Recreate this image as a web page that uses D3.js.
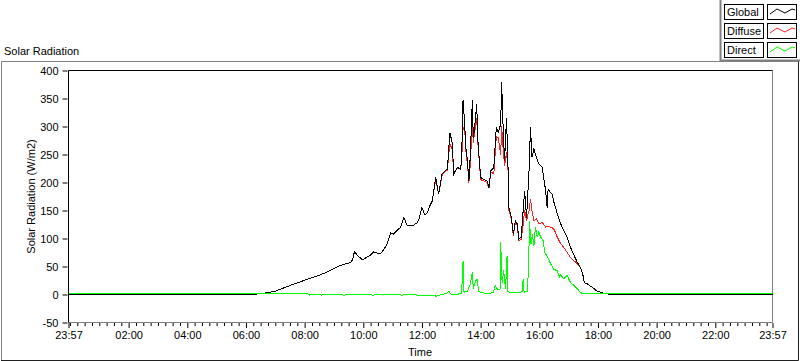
<!DOCTYPE html>
<html>
<head>
<meta charset="utf-8">
<script src="https://cdn.jsdelivr.net/npm/d3@7"></script>
<style>
  body { margin: 0; background: #fff; }
  svg { display: block; font-family: "Liberation Sans", Arial, sans-serif; font-size: 11px; }
</style>
</head>
<body>
<div id="chart"></div>
<script>
// minutes after midnight, shared by Global and Diffuse
const times = [-3, 360, 372, 384, 396, 408, 420, 432, 444, 456, 470, 484, 498, 512, 520, 530, 542, 553, 565, 574,
  578, 582, 588, 598, 606, 614, 621, 628, 635, 642, 649, 656, 662, 669, 676, 683, 690, 696, 703, 710,
  714, 720, 726, 731, 736, 741, 748, 754, 761, 768, 772, 777, 782, 785, 792, 799, 801, 804, 807, 810,
  813, 816, 819, 823, 825, 827, 832, 834, 840, 846, 853, 857, 861, 867, 872, 876, 881, 883, 886, 889,
  893, 896, 898, 903, 907, 911, 915, 918, 923, 927, 930, 934, 936, 939, 942, 945, 949, 954, 959, 966,
  973, 976, 978, 986, 991, 997, 1003, 1010, 1017, 1024, 1031, 1038, 1044, 1049, 1052, 1058, 1068, 1078, 1092, 1106, 1437]
const globalV = [0, 0, 0, 1, 2, 4, 6, 10, 14, 18, 22, 27, 31, 35, 38, 42, 47, 52, 55, 57,
  62, 77, 70, 62, 66, 70, 76, 74, 73, 80, 91, 110, 108, 114, 120, 137, 123, 123, 124, 128,
  135, 155, 142, 146, 158, 167, 209, 179, 215, 221, 224, 289, 271, 215, 227, 224, 239, 347, 310, 260,
  239, 203, 251, 347, 280, 292, 340, 280, 209, 206, 203, 191, 221, 227, 298, 289, 304, 379, 298, 239,
  316, 227, 155, 137, 108, 132, 126, 99, 102, 150, 185, 137, 173, 221, 299, 245, 260, 245, 233, 227,
  185, 155, 188, 179, 161, 144, 128, 114, 102, 84, 70, 57, 48, 36, 21, 19, 13, 6, 2, 0, 0]
const diffuseV = [0, 0, 0, 1, 2, 4, 6, 10, 14, 18, 22, 27, 31, 35, 38, 42, 47, 52, 55, 57,
  62, 77, 70, 62, 66, 70, 76, 74, 73, 80, 91, 110, 108, 114, 120, 137, 123, 123, 124, 128,
  135, 155, 142, 146, 158, 167, 205, 179, 212, 221, 222, 270, 258, 215, 225, 224, 236, 295, 300, 255,
  233, 200, 235, 310, 270, 285, 315, 275, 205, 203, 200, 190, 219, 215, 282, 280, 250, 300, 260, 230,
  255, 222, 150, 134, 105, 129, 123, 96, 98, 125, 150, 132, 140, 150, 170, 150, 132, 135, 126, 129,
  120, 122, 121, 120, 115, 102, 92, 84, 75, 66, 60, 55, 48, 36, 21, 19, 13, 6, 2, 0, 0]

// Direct has its own sample times
const directT = [-3, 485, 490, 500, 515, 530, 560, 590, 620, 650, 680, 700, 720, 735, 750, 760, 770, 775, 778, 790,
  801, 804, 806, 810, 813, 819, 823, 825, 830, 833, 836, 846, 855, 860, 866, 870, 874, 877, 880, 881,
  884, 887, 891, 894, 896, 901, 908, 915, 922, 925, 927, 929, 935, 938, 940, 943, 946, 949, 952, 956,
  959, 962, 968, 971, 973, 976, 983, 990, 997, 1002, 1003, 1010, 1017, 1024, 1031, 1038, 1044, 1048, 1437]
const directV = [1.8, 1.8, -1, 0, -1, 0, -1, 0, -1, 0, -1, 0, -2, -1, -3, 0, 2, 6, 1, 0,
  2, 60, 4, 6, 6, 19, 40, 10, 25, 27, 5, 3, 1, 2, 4, 16, 10, 8, 10, 93,
  20, 43, 10, 69, 5, 3, 4, 3, 4, 5, 27, 4, 6, 42, 132, 90, 108, 86, 120, 102,
  112, 104, 96, 75, 72, 69, 55, 45, 42, 30, 36, 28, 34, 21, 16, 10, 4, 1.8, 1.8]

const yTicks = [-50, 0, 50, 100, 150, 200, 250, 300, 350, 400]
const xMajor = [-3, 120, 240, 360, 480, 600, 720, 840, 960, 1080, 1200, 1320, 1437]
const seriesNames = ["Global", "Diffuse", "Direct"]
const seriesColors = ["#000000", "#ff2020", "#00ff00"]

const W = 800, H = 361
const x = d3.scaleLinear().domain([-3, 1437]).range([68.5, 772.5])
const y = d3.scaleLinear().domain([-50, 400]).range([322.5, 70.5])

const svg = d3.select("#chart").append("svg")
    .attr("width", W).attr("height", H)

svg.append("rect").attr("width", W).attr("height", H).attr("fill", "#fff")

// outer panel frame
svg.append("path").attr("d", "M1.5,360 V61.5 H799").attr("fill", "none").attr("stroke", "#808080")
svg.append("path").attr("d", "M1,360.5 H798.5 V61").attr("fill", "none").attr("stroke", "#202020")

svg.append("text").attr("x", 4).attr("y", 55).text("Solar Radiation")

// legend
const lg = svg.append("g")
lg.append("path").attr("d", "M720.5,0 V60.5 H800").attr("fill", "none").attr("stroke", "#808080").attr("stroke-width", 2)
const swatch = d3.line()
seriesNames.forEach((name, i) => {
  const top = 4 + i * 19
  lg.append("rect").attr("x", 724.5).attr("y", top + 0.5).attr("width", 39).attr("height", 15)
    .attr("fill", "#fff").attr("stroke", "#000")
  lg.append("text").attr("x", 727).attr("y", top + 12).text(name)
  lg.append("rect").attr("x", 767.5).attr("y", top + 0.5).attr("width", 29).attr("height", 15)
    .attr("fill", "#fff").attr("stroke", "#000")
  lg.append("path")
    .attr("d", swatch([[770, top + 10], [777, top + 5], [785, top + 9], [792, top + 5], [795, top + 6]]))
    .attr("fill", "none").attr("stroke", seriesColors[i])
})

// plot frame
svg.append("path").attr("d", `M${x(1437)},${y(400)} V${y(-50)} H${x(-3)}`)
  .attr("fill", "none").attr("stroke", "#808080")
svg.append("path").attr("d", `M${x(-3)},${y(-50)} V${y(400)} H${x(1437)}`)
  .attr("fill", "none").attr("stroke", "#000")

// y axis
const yAxis = svg.append("g").attr("transform", `translate(${x(-3) - 1},0)`)
  .call(d3.axisLeft(y).tickValues(yTicks).tickSize(5).tickPadding(4).tickFormat(d => String(d)))
yAxis.select(".domain").remove()
yAxis.selectAll("text").attr("font-size", 11).attr("font-family", "Liberation Sans, Arial, sans-serif").attr("fill", "#000")
yAxis.selectAll("line").attr("stroke", "#000")

// x axis: minor ticks every 15 min, major every 2 h
const fmt = m => {
  const t = ((m % 1440) + 1440) % 1440
  return String(Math.floor(t / 60)).padStart(2, "0") + ":" + String(t % 60).padStart(2, "0")
}
const xMinor = d3.range(0, 1437, 15).filter(m => !xMajor.includes(m))
const xMinorAxis = svg.append("g").attr("transform", `translate(0,${y(-50) + 0.5})`)
  .call(d3.axisBottom(x).tickValues(xMinor).tickSize(3).tickFormat(""))
xMinorAxis.select(".domain").remove()
xMinorAxis.selectAll("line").attr("stroke", "#000")
const xAxis = svg.append("g").attr("transform", `translate(0,${y(-50) + 0.5})`)
  .call(d3.axisBottom(x).tickValues(xMajor).tickSize(5).tickPadding(3).tickFormat(fmt))
xAxis.select(".domain").remove()
xAxis.selectAll("line").attr("stroke", "#000")
xAxis.selectAll("text").attr("font-size", 11).attr("font-family", "Liberation Sans, Arial, sans-serif").attr("fill", "#000")

svg.append("text").attr("x", 420).attr("y", 356).attr("text-anchor", "middle").text("Time")
svg.append("text").attr("transform", `translate(35,${(y(400) + y(-50)) / 2}) rotate(-90)`)
  .attr("text-anchor", "middle").text("Solar Radiation (W/m2)")

// series: diffuse under global, direct on top
const line = d3.line().x(d => x(d[0])).y(d => y(d[1]))
const plot = svg.append("g")
const series = [
  { color: seriesColors[1], pts: times.map((t, i) => [t, diffuseV[i]]) },
  { color: seriesColors[0], pts: times.map((t, i) => [t, globalV[i]]) },
  { color: seriesColors[2], pts: directT.map((t, i) => [t, directV[i]]) }
]
plot.selectAll("path")
  .data(series)
  .join("path")
  .attr("fill", "none")
  .attr("stroke", d => d.color)
  .attr("stroke-width", 1)
  .attr("shape-rendering", "crispEdges")
  .attr("d", d => line(d.pts))
</script>
</body>
</html>
